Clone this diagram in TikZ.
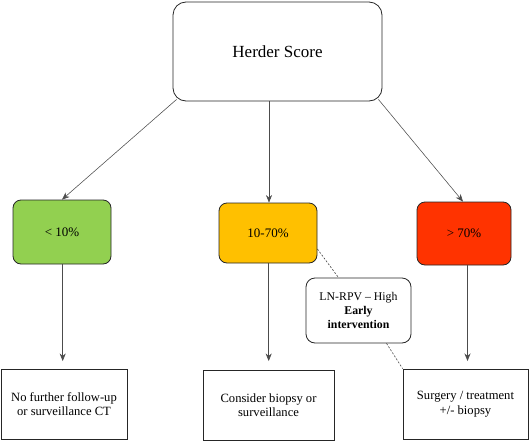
\documentclass[tikz,border=0pt]{standalone}
\usepackage{fontspec}
\setmainfont{Liberation Serif}
\usetikzlibrary{arrows.meta,calc}
\definecolor{cgreen}{HTML}{92D050}
\definecolor{cyellow}{HTML}{FFC000}
\definecolor{cred}{HTML}{FF3300}
\begin{document}
\begin{tikzpicture}[x=1pt,y=-1pt,
  box/.style={draw=black!85, line width=0.8pt, align=center, inner sep=0pt, font=\fontsize{12.6}{14.5}\selectfont},
  topbox/.style={box, rounded corners=13pt, font=\fontsize{17}{20}\selectfont},
  catbox/.style={box, rounded corners=8pt, font=\fontsize{13}{15}\selectfont},
  notebox/.style={box, rounded corners=9pt, font=\fontsize{11.8}{14}\selectfont},
  conn/.style={draw=black!70, line width=0.55pt},
  arr/.style={conn, -{Stealth[length=7.5pt,width=6pt]}},
  dash line/.style={draw=black!75, line width=0.6pt, dash pattern=on 2pt off 1.6pt}]
\useasboundingbox (0,0) rectangle (530,442);
\fill[white] (0,0) rectangle (530,442);

\node[topbox, minimum width=209pt, minimum height=99pt] (top) at (277.5,51.5) {Herder Score};

\node[catbox, fill=cgreen, minimum width=98pt, minimum height=64pt] (low) at (62,232) {< 10\%};
\node[catbox, fill=cyellow, minimum width=98pt, minimum height=60pt] (mid) at (268,233) {10-70\%};
\node[catbox, fill=cred, minimum width=94pt, minimum height=63pt] (high) at (464,233.5) {> 70\%};

\node[box, minimum width=126pt, minimum height=70pt] (b1) at (64,404) {No further follow-up\\or surveillance CT};
\node[box, minimum width=131pt, minimum height=70pt] (b2) at (268.5,405) {Consider biopsy or\\surveillance};
\node[box, minimum width=125pt, minimum height=70pt] (b3) at (465.5,404) {Surgery / treatment\\+/- biopsy};

\node[notebox, minimum width=105pt, minimum height=65pt] (ln) at (358.5,310.5) {LN-RPV -- High\\\textbf{Early}\\\textbf{intervention}};

% arrows from top
\draw[arr] ([xshift=4pt,yshift=2pt]top.south west) -- (low.north);
\draw[arr] ([xshift=1pt]mid.north |- top.south) -- ([xshift=1pt]mid.north);
\draw[arr] ([xshift=-4pt,yshift=2pt]top.south east) -- ([xshift=-1pt]high.north);

% arrows to actions
\coordinate (e1) at (62.7,361);
\coordinate (e2) at (268.7,361);
\coordinate (e3) at (467.5,361);
\draw[arr] (low.south -| e1) -- (e1);
\draw[arr] (mid.south -| e2) -- (e2);
\draw[arr] (high.south -| e3) -- (e3);

% dashed links
\draw[dash line] ([yshift=-16pt]mid.east) -- ([xshift=-20pt]ln.north);
\draw[dash line] ([xshift=28pt]ln.south) -- (b3.north west);
\end{tikzpicture}
\end{document}
